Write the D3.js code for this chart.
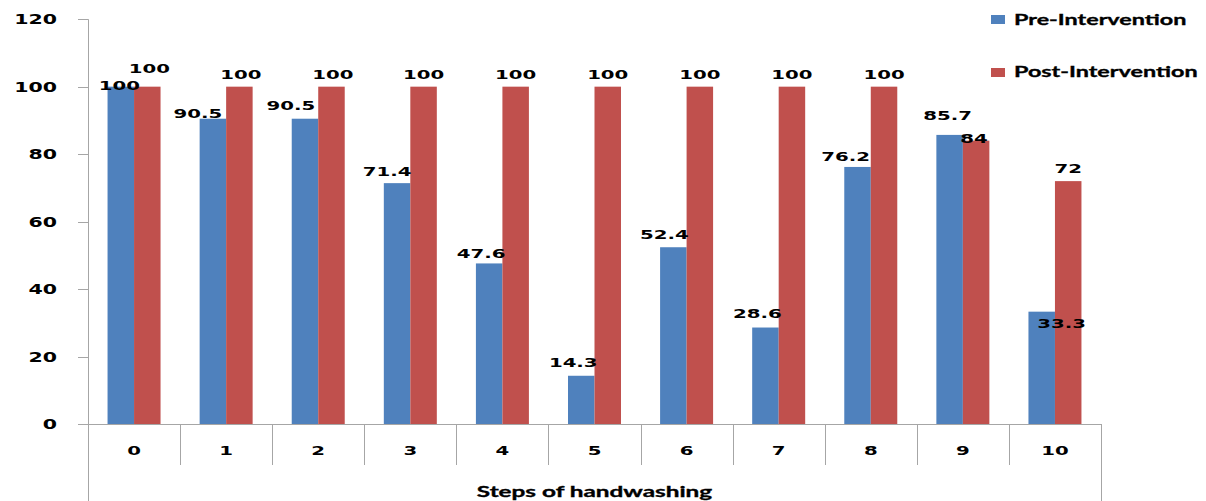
<!DOCTYPE html>
<html>
<head>
<meta charset="utf-8">
<script src="https://cdn.jsdelivr.net/npm/d3@7"></script>
<style>
  html, body { margin: 0; padding: 0; background: #fff; }
  svg { display: block; }
  .num { font-family: "DejaVu Sans", Verdana, sans-serif; font-weight: bold; fill: #000; }
  .lbl { font-family: Lato, "Open Sans", sans-serif; font-weight: bold; fill: #000;
         stroke: #000; stroke-width: 0.35px; }
</style>
</head>
<body>
<svg id="chart" width="1206" height="501"></svg>
<script>
// Hand-washing step compliance (%), before and after the intervention
const categories = ["0", "1", "2", "3", "4", "5", "6", "7", "8", "9", "10"];
const preIntervention  = [100, 90.5, 90.5, 71.4, 47.6, 14.3, 52.4, 28.6, 76.2, 85.7, 33.3];
const postIntervention = [100, 100, 100, 100, 100, 100, 100, 100, 100, 84, 72];
const yTicks = [0, 20, 40, 60, 80, 100, 120];
const seriesNames = ["Pre-Intervention", "Post-Intervention"];
const xTitle = "Steps of handwashing";

// Value-label placement tweaks (dx from bar centre, gap above bar top)
const preLabelDx  = [-1.5, -15, -14, -10, -8, -8, -9, -8, -12, -2, 20];
const preLabelGap = [-3.3, 1, 8.7, 7, 5, 9, 8, 10, 5.5, 15, -16];
const postLabelDx  = [2, 1.5, 1.5, 0, 0, 0, 0, 0, 0, -2, 0];
const postLabelGap = [13.7, 8, 8, 8, 8, 8, 8, 8, 8, -2, 8];

const colors = { pre: "#4F81BD", post: "#C0504D" };
const axisColor = "#A6A6A6";
const SX = 1.52; // horizontal stretch applied to text

const svg = d3.select("#chart");
const plot = { left: 88, right: 1101, top: 19.2, bottom: 424 };

const y = d3.scaleLinear().domain([0, 120]).range([plot.bottom, plot.top]);
const x = d3.scaleBand().domain(categories).range([plot.left, plot.right]).padding(0);
const x1 = d3.scaleBand().domain(["pre", "post"]).range([0, x.bandwidth()])
  .paddingInner(0).paddingOuter(0.7377);

function stretchedText(g, txt, px, py, cls, size, anchor, sx) {
  return g.append("text")
    .attr("class", cls)
    .attr("transform", `translate(${px},${py}) scale(${sx || SX},1)`)
    .attr("text-anchor", anchor || "middle")
    .style("font-size", size + "px")
    .text(txt);
}

// Y axis line and ticks
svg.append("line")
  .attr("x1", plot.left + 0.5).attr("x2", plot.left + 0.5)
  .attr("y1", y(120)).attr("y2", 501)
  .attr("stroke", axisColor).attr("stroke-width", 1);

const yAxis = svg.append("g");
yTicks.forEach(t => {
  const ty = Math.round(y(t)) + 0.5;
  yAxis.append("line")
    .attr("x1", plot.left - 10).attr("x2", plot.left)
    .attr("y1", ty).attr("y2", ty)
    .attr("stroke", axisColor).attr("stroke-width", 1);
  stretchedText(yAxis, String(t), 57, y(t) + 5, "num", 13.5, "end");
});

// Category axis: baseline, separators, labels
svg.append("line")
  .attr("x1", plot.left).attr("x2", plot.right)
  .attr("y1", Math.round(y(0)) + 0.5).attr("y2", Math.round(y(0)) + 0.5)
  .attr("stroke", axisColor).attr("stroke-width", 1);

const bounds = categories.map(c => x(c)).concat([plot.right]);
bounds.forEach((bx, i) => {
  const outer = i === 0 || i === bounds.length - 1;
  svg.append("line")
    .attr("x1", Math.round(bx) + 0.5).attr("x2", Math.round(bx) + 0.5)
    .attr("y1", y(0)).attr("y2", outer ? 501 : 465)
    .attr("stroke", axisColor).attr("stroke-width", 1);
});

categories.forEach(c => {
  stretchedText(svg, c, x(c) + x.bandwidth() / 2, 455, "num", 13, "middle");
});

// Bars
const rows = categories.map((c, i) => ({ c, i, pre: preIntervention[i], post: postIntervention[i] }));
const groups = svg.append("g").selectAll("g").data(rows).join("g")
  .attr("transform", d => `translate(${x(d.c)},0)`);

groups.append("rect")
  .attr("x", x1("pre")).attr("width", x1.bandwidth())
  .attr("y", d => y(d.pre)).attr("height", d => y(0) - y(d.pre))
  .attr("fill", colors.pre);
groups.append("rect")
  .attr("x", x1("post")).attr("width", x1.bandwidth())
  .attr("y", d => y(d.post)).attr("height", d => y(0) - y(d.post))
  .attr("fill", colors.post);

// Value labels
rows.forEach(d => {
  const base = x(d.c);
  stretchedText(svg, String(d.pre),
    base + x1("pre") + x1.bandwidth() / 2 + preLabelDx[d.i],
    y(d.pre) - preLabelGap[d.i], "num", 13, "middle");
  stretchedText(svg, String(d.post),
    base + x1("post") + x1.bandwidth() / 2 + postLabelDx[d.i],
    y(d.post) - postLabelGap[d.i], "num", 13, "middle");
});

// Axis title
stretchedText(svg, xTitle, (plot.left + plot.right) / 2, 497, "lbl", 16, "middle");

// Legend
const legend = svg.append("g");
[[seriesNames[0], colors.pre, 15, 25], [seriesNames[1], colors.post, 68, 77]].forEach(([name, col, ry, ty]) => {
  legend.append("rect").attr("x", 991).attr("y", ry).attr("width", 14).attr("height", 9).attr("fill", col);
  stretchedText(legend, name, 1014, ty, "lbl", 16, "start", 1.46);
});
</script>
</body>
</html>
